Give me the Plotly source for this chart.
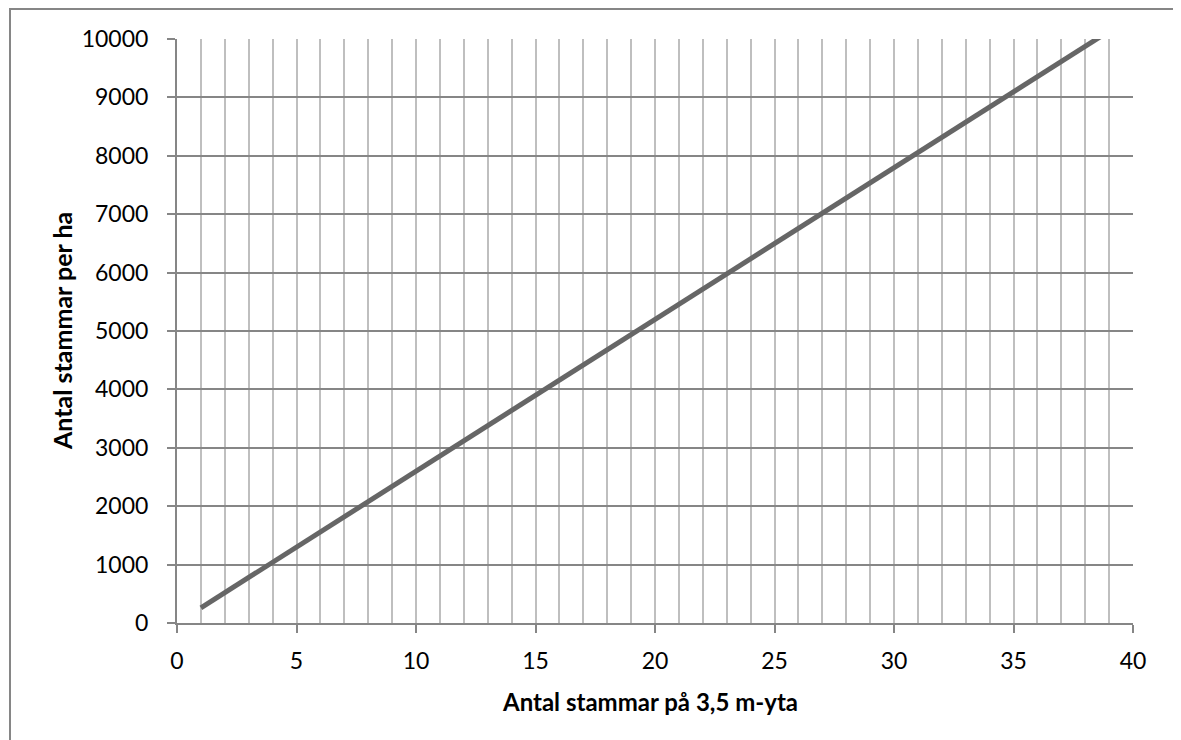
import plotly.graph_objects as go

# Data: number of stems on a 3.5 m radius plot vs stems per hectare
stems_plot = list(range(1, 41))
stems_per_ha = [260, 520, 780, 1039, 1299, 1559, 1819, 2079, 2339, 2598,
                2858, 3118, 3378, 3638, 3898, 4158, 4417, 4677, 4937, 5197,
                5457, 5717, 5976, 6236, 6496, 6756, 7016, 7276, 7536, 7795,
                8055, 8315, 8575, 8835, 9095, 9355, 9614, 9874, 10134, 10394]

x_title = "Antal stammar på 3,5 m-yta"
y_title = "Antal stammar per ha"

FONT = "Lato, 'Open Sans', sans-serif"
OFF = 8  # page body margin
W, H = 1173, 732
L, R, T, B = 177 - OFF, 1133 - OFF, 39 - OFF, 623 - OFF
pw, ph = R - L, B - T

def px(x):
    return (x - OFF - L) / pw

def py(y):
    return (B - (y - OFF)) / ph

fig = go.Figure()
fig.add_trace(go.Scatter(x=stems_plot, y=stems_per_ha, mode="lines",
                         line=dict(color="#666666", width=5), showlegend=False,
                         hoverinfo="x+y"))

fig.update_layout(
    width=W, height=H,
    margin=dict(l=L, r=W - R, t=T, b=H - B),
    paper_bgcolor="white", plot_bgcolor="white",
    font=dict(family=FONT, size=23, color="black"),
    xaxis=dict(range=[0, 40], dtick=5, tick0=0, showgrid=True, gridcolor="#bfbfbf", gridwidth=2,
               minor=dict(dtick=1, showgrid=True, gridcolor="#bfbfbf", gridwidth=2),
               showline=True, linecolor="#868686", linewidth=2,
               ticks="outside", ticklen=8, tickcolor="#868686", tickwidth=2,
               ticklabelstandoff=8, tickformat="d",
               zeroline=False, fixedrange=True),
    yaxis=dict(range=[0, 10000], dtick=1000, tick0=0, showgrid=True, gridcolor="#868686", gridwidth=2,
               showline=True, linecolor="#868686", linewidth=2,
               ticks="outside", ticklen=8, tickcolor="#868686", tickwidth=2,
               ticklabelstandoff=14, tickformat="d",
               zeroline=False, fixedrange=True),
    annotations=[
        dict(text=f"<b>{x_title}</b>", x=px(650), y=py(701), xref="paper", yref="paper",
             showarrow=False, font=dict(size=24, family=FONT), xanchor="center", yanchor="middle"),
        dict(text=f"<b>{y_title}</b>", x=px(62), y=py(331), xref="paper", yref="paper",
             showarrow=False, textangle=-90, font=dict(size=25, family=FONT), xanchor="center", yanchor="middle"),
    ],
    shapes=[
        dict(type="rect", xref="paper", yref="paper",
             x0=px(10), x1=px(1176), y0=py(780), y1=py(9),
             line=dict(color="#868686", width=2), fillcolor="rgba(0,0,0,0)", layer="below"),
    ],
)

fig.write_html("out.html")
